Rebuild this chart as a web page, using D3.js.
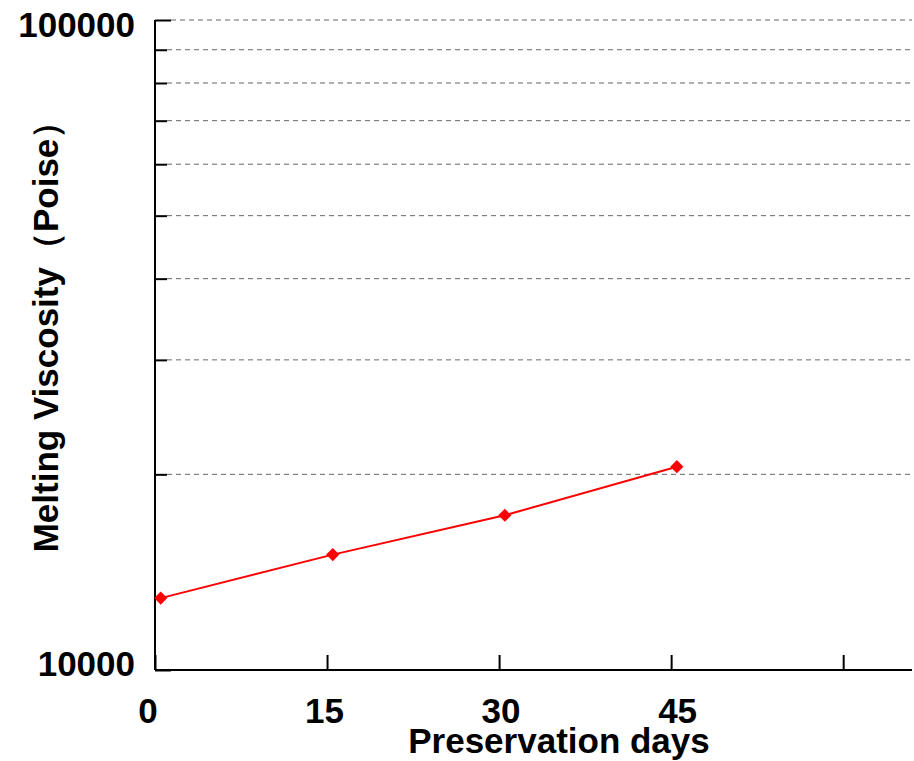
<!DOCTYPE html>
<html lang="en">
<head>
    <meta charset="UTF-8">
    <title>Melting Viscosity vs Preservation days</title>
    <script src="https://d3js.org/d3.v7.min.js"></script>
    <style>
        body { margin: 0; background: #fff; }
        svg { display: block; }
        text { font-family: "Liberation Sans", Arial, sans-serif; font-weight: bold; fill: #000; }
    </style>
</head>
<body>
    <script>
    // data
    const days = [0.5, 15.5, 30.5, 45.5];
    const viscosity = [12900, 15050, 17300, 20550];
    const xTicks = [0, 15, 30, 45, 60];
    const xTickLabels = ["0", "15", "30", "45", ""];
    const yGrid = [20000, 30000, 40000, 50000, 60000, 70000, 80000, 90000, 100000];
    const yLabels = [10000, 100000];

    const width = 914, height = 761;
    const plotL = 155, plotR = 912, plotT = 20, plotB = 670;

    const svg = d3.select("body").append("svg")
      .attr("width", width)
      .attr("height", height);

    const x = d3.scaleLinear().domain([0, 66]).range([plotL, plotR]);
    const y = d3.scaleLog().domain([10000, 100000]).range([plotB, plotT]);

    // dashed gridlines
    svg.append("g")
      .selectAll("line")
      .data(yGrid)
      .join("line")
      .attr("x1", d => d === 100000 ? plotL + 16 : plotL + 12)
      .attr("x2", plotR)
      .attr("y1", d => y(d))
      .attr("y2", d => y(d))
      .attr("stroke", "#666")
      .attr("stroke-width", 1)
      .attr("stroke-dasharray", "5,4");

    // y axis: line, ticks inward
    const yAxis = svg.append("g")
      .attr("transform", `translate(${plotL},0)`)
      .call(d3.axisRight(y).tickValues(yGrid.concat([10000])).tickSize(12).tickFormat(""));
    yAxis.select(".domain").attr("stroke", "#000").attr("stroke-width", 2).attr("d", `M0,${plotT}V${plotB}`);
    yAxis.selectAll(".tick line")
      .attr("stroke", "#000").attr("stroke-width", 2)
      .attr("x2", d => (d === 100000 || d === 10000) ? 16 : 12);

    // the end labels sit slightly inside the axis range
    svg.append("g")
      .selectAll("text")
      .data(yLabels)
      .join("text")
      .attr("x", 135)
      .attr("y", d => y(d) + (d === 100000 ? 17 : 6))
      .attr("text-anchor", "end")
      .attr("font-size", 35)
      .text(d => d);

    // x axis: line, ticks upward
    const xAxis = svg.append("g")
      .attr("transform", `translate(0,${plotB})`)
      .call(d3.axisTop(x).tickValues(xTicks).tickSize(15).tickFormat(""));
    xAxis.select(".domain").attr("stroke", "#000").attr("stroke-width", 2).attr("d", `M${plotL},0H${plotR}`);
    xAxis.selectAll(".tick line").attr("stroke", "#000").attr("stroke-width", 2);

    svg.append("g")
      .selectAll("text")
      .data(xTicks)
      .join("text")
      .attr("x", d => x(d) - 7 + d * 0.3)
      .attr("y", 723)
      .attr("text-anchor", "middle")
      .attr("font-size", 35)
      .text((d, i) => xTickLabels[i]);

    // axis titles
    svg.append("text")
      .attr("x", 559)
      .attr("y", 753)
      .attr("text-anchor", "middle")
      .attr("font-size", 35)
      .text("Preservation days");

    svg.append("text")
      .attr("transform", "translate(58,328) rotate(-90)")
      .attr("text-anchor", "middle")
      .attr("font-size", 35)
      .text("Melting Viscosity（Poise）");

    // series
    const pts = days.map((d, i) => ({ d: d, v: viscosity[i] }));

    svg.append("path")
      .datum(pts)
      .attr("fill", "none")
      .attr("stroke", "#f00")
      .attr("stroke-width", 2)
      .attr("d", d3.line().x(p => x(p.d)).y(p => y(p.v)));

    svg.append("g")
      .selectAll("path")
      .data(pts)
      .join("path")
      .attr("transform", p => `translate(${x(p.d)},${y(p.v)})`)
      .attr("d", d3.symbol().type(d3.symbolDiamond2).size(110))
      .attr("fill", "#f00");
    </script>
</body>
</html>
